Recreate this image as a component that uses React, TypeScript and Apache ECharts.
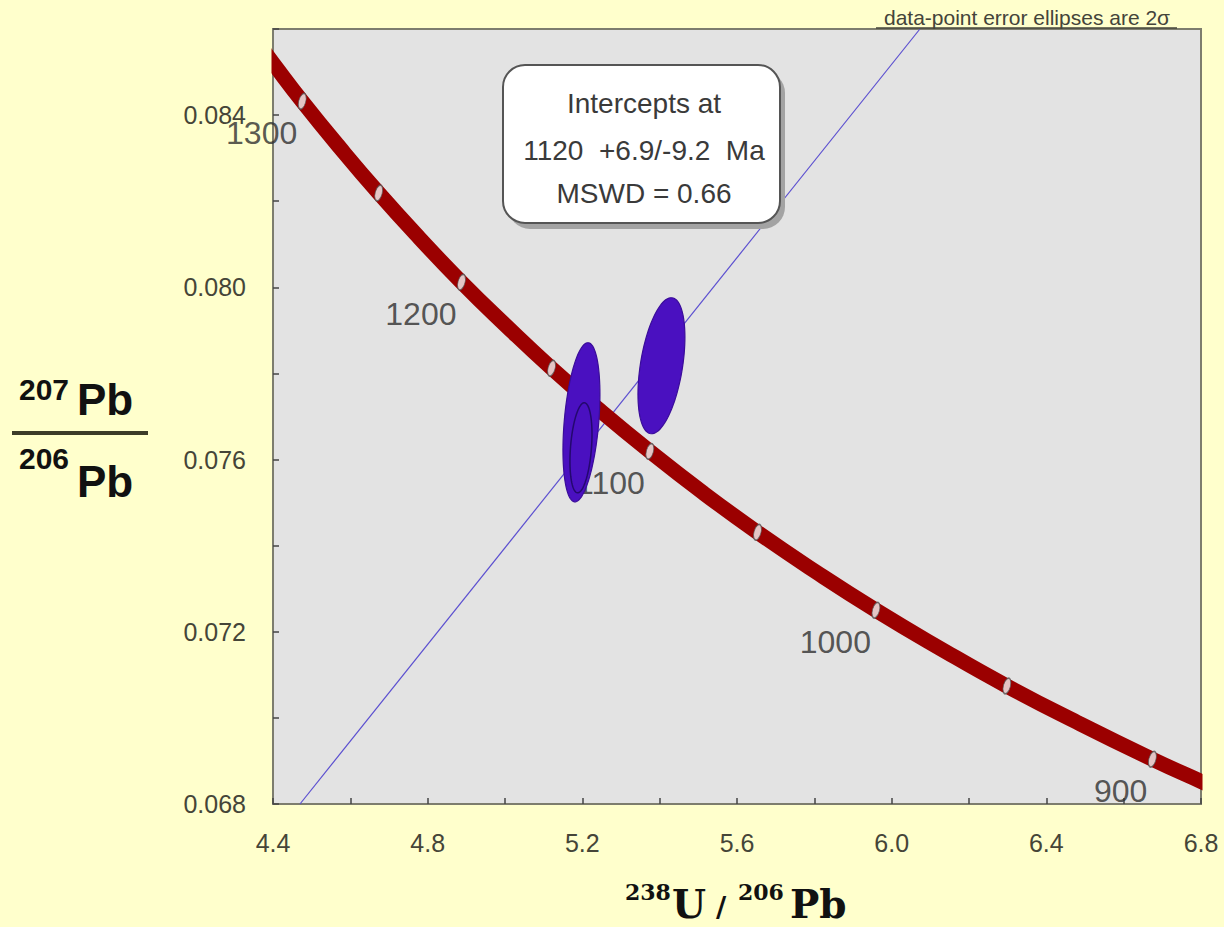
import React, { useEffect, useRef } from 'react';
import * as echarts from 'echarts';

// Concordia curve (Tera-Wasserburg), points read along the red band
const concordiaAges = [1330, 1320, 1300, 1275, 1250, 1225, 1200, 1175, 1150, 1125, 1100, 1075, 1050, 1025, 1000, 975, 950, 925, 900, 884, 875];
const concordiaX = [4.3641, 4.4007, 4.4756, 4.5725, 4.6733, 4.7782, 4.8875, 5.0015, 5.1204, 5.2447, 5.3746, 5.5106, 5.653, 5.8025, 5.9593, 6.1243, 6.298, 6.4811, 6.6743, 6.8037, 6.8787];
const concordiaY = [0.08564, 0.0852, 0.08432, 0.08325, 0.08219, 0.08115, 0.08012, 0.07912, 0.07812, 0.07715, 0.07619, 0.07524, 0.07431, 0.0734, 0.0725, 0.07162, 0.07074, 0.06989, 0.06904, 0.06851, 0.06821];

// Age tick marks on concordia
const tickAges = [1300, 1250, 1200, 1150, 1100, 1050, 1000, 950, 900];
const tickX = [4.4756, 4.6733, 4.8875, 5.1204, 5.3746, 5.653, 5.9593, 6.298, 6.6743];
const tickY = [0.08432, 0.08219, 0.08012, 0.07812, 0.07619, 0.07431, 0.0725, 0.07074, 0.06904];

// Discordia line
const discordiaX = [4.4698, 6.073];
const discordiaY = [0.068, 0.086];

// Data-point error ellipses (2 sigma): centre, half-widths, correlation
const ellipseCx = [5.1977, 5.1965, 5.4046];
const ellipseCy = [0.076866, 0.076273, 0.078179];
const ellipseSx = [0.0478, 0.0285, 0.0607];
const ellipseSy = [0.001848, 0.001046, 0.00158];
const ellipseRho = [0.35, 0.3, 0.42];

const interceptLines = ['Intercepts at', '1120  +6.9/-9.2  Ma', 'MSWD = 0.66'];
const noteText = 'data-point error ellipses are 2σ';

const SANS = '"Liberation Sans", Arial, sans-serif';
const SERIF = '"DejaVu Serif", "Liberation Serif", serif';
const PAGE_BG = '#FFFFCC';

export default function App() {
  const ref = useRef<HTMLDivElement>(null);
  useEffect(() => {
    if (!ref.current) return;
    const chart = echarts.init(ref.current, null, { renderer: 'svg' });

    const concordiaData = concordiaX.map((x, i) => [x, concordiaY[i], concordiaAges[i]]);
    const tickData = tickX.map((x, i) => [x, tickY[i], tickAges[i]]);
    const discordiaData = discordiaX.map((x, i) => [x, discordiaY[i]]);
    const ellipseData = ellipseCx.map((x, i) => [x, ellipseCy[i], ellipseSx[i], ellipseSy[i], ellipseRho[i]]);

    const option: any = {
      animation: false,
      backgroundColor: PAGE_BG,
      grid: {
        left: 273,
        top: 29,
        right: 23,
        bottom: 123,
        show: true,
        backgroundColor: '#E3E3E3',
        borderColor: '#7d7d6e',
        borderWidth: 2,
      },
      xAxis: {
        type: 'value',
        min: 4.4,
        max: 6.8,
        interval: 0.2,
        splitLine: { show: false },
        axisLine: { show: true, lineStyle: { color: '#7d7d6e', width: 2 } },
        axisTick: { show: true, inside: true, length: 6, lineStyle: { color: '#444', width: 1.5 } },
        axisLabel: {
          showMinLabel: true,
          showMaxLabel: true,
          fontSize: 25,
          fontFamily: SANS,
          color: '#454538',
          margin: 26,
          formatter: (v: number) => {
            const k = Math.round(v * 10);
            return k % 4 === 0 ? (k / 10).toFixed(1) : '';
          },
        },
      },
      yAxis: {
        type: 'value',
        min: 0.068,
        max: 0.086,
        interval: 0.002,
        splitLine: { show: false },
        axisLine: { show: true, lineStyle: { color: '#7d7d6e', width: 2 } },
        axisTick: { show: true, inside: true, length: 6, lineStyle: { color: '#444', width: 1.5 } },
        axisLabel: {
          showMinLabel: true,
          fontSize: 25,
          fontFamily: SANS,
          color: '#454538',
          margin: 27,
          formatter: (v: number) => {
            const k = Math.round(v * 1000);
            return k % 4 === 0 ? (k / 1000).toFixed(3) : '';
          },
        },
      },
      series: [
        {
          type: 'line',
          name: 'discordia',
          data: discordiaData,
          showSymbol: false,
          z: 2,
          lineStyle: { color: '#5b4fd0', width: 1.2 },
        },
        {
          type: 'line',
          name: 'concordia',
          data: concordiaData,
          showSymbol: false,
          smooth: true,
          clip: true,
          z: 3,
          lineStyle: { color: '#9b0000', width: 15, cap: 'butt' },
        },
        {
          type: 'scatter',
          name: 'ages',
          data: tickData,
          z: 4,
          symbol: 'circle',
          symbolSize: [7, 16],
          symbolRotate: -15,
          itemStyle: { color: '#f6f6f6', borderColor: '#555', borderWidth: 1.2 },
          label: {
            show: true,
            position: 'inside',
            align: 'right',
            verticalAlign: 'middle',
            offset: [-5, 32],
            fontSize: 32,
            fontFamily: SANS,
            color: '#2e2e2e',
            formatter: (p: any) => (p.value[2] % 100 === 0 ? String(p.value[2]) : ''),
          },
        },
        {
          type: 'custom',
          name: 'ellipses',
          data: ellipseData,
          z: 5,
          encode: { x: 0, y: 1 },
          renderItem: (params: any, api: any) => {
            const cx = api.value(0);
            const cy = api.value(1);
            const sx = api.value(2);
            const sy = api.value(3);
            const rho = api.value(4);
            const s = Math.sqrt(1 - rho * rho);
            const pts: number[][] = [];
            const n = 96;
            for (let k = 0; k < n; k++) {
              const t = (k / n) * Math.PI * 2;
              pts.push(api.coord([cx + sx * Math.cos(t), cy + sy * (rho * Math.cos(t) + s * Math.sin(t))]));
            }
            const inner = params.dataIndex === 1;
            return {
              type: 'polygon',
              shape: { points: pts },
              style: {
                fill: '#4a10c0',
                stroke: inner ? '#24086e' : '#3a0c9a',
                lineWidth: inner ? 1.5 : 1.2,
              },
            };
          },
        },
      ],
      graphic: [
        // trim the thick concordia band at the plot edges
        {
          type: 'rect', z: 6,
          shape: { x: 255, y: 29, width: 16.5, height: 90 },
          style: { fill: PAGE_BG },
        },
        {
          type: 'rect', z: 6,
          shape: { x: 1202.5, y: 720, width: 16, height: 90 },
          style: { fill: PAGE_BG },
        },
        // intercept box
        {
          type: 'rect',
          z: 10,
          shape: { x: 508, y: 71, width: 277, height: 158, r: 22 },
          style: { fill: '#a3a3a3' },
        },
        {
          type: 'rect',
          z: 11,
          shape: { x: 503, y: 65, width: 277, height: 158, r: 22 },
          style: { fill: '#ffffff', stroke: '#555', lineWidth: 2 },
        },
        ...interceptLines.map((t, i) => ({
          type: 'text',
          z: 12,
          x: 644,
          y: [103, 150, 193][i],
          style: {
            text: t,
            font: `28px ${SANS}`,
            fill: '#3a3a3a',
            textAlign: 'center',
            textVerticalAlign: 'middle',
          },
        })),
        // note at top right
        {
          type: 'text',
          z: 12,
          x: 1027,
          y: 17,
          style: {
            text: noteText,
            font: `21px ${SANS}`,
            fill: '#44443a',
            textAlign: 'center',
            textVerticalAlign: 'middle',
          },
        },
        {
          type: 'line',
          z: 12,
          shape: { x1: 876, y1: 28, x2: 1177, y2: 28 },
          style: { stroke: '#44443a', lineWidth: 1.5 },
        },
        // y axis title: 207Pb / 206Pb
        {
          type: 'text', z: 12, x: 19, y: 389,
          style: { text: '207', font: `bold 30px ${SANS}`, fill: '#111', textAlign: 'left', textVerticalAlign: 'middle' },
        },
        {
          type: 'text', z: 12, x: 77, y: 421,
          style: { text: 'Pb', font: `bold 44px ${SANS}`, fill: '#111', textAlign: 'left', textVerticalAlign: 'bottom' },
        },
        {
          type: 'rect', z: 12,
          shape: { x: 12, y: 431, width: 136, height: 4 },
          style: { fill: '#3c3c28' },
        },
        {
          type: 'text', z: 12, x: 19, y: 458,
          style: { text: '206', font: `bold 30px ${SANS}`, fill: '#111', textAlign: 'left', textVerticalAlign: 'middle' },
        },
        {
          type: 'text', z: 12, x: 77, y: 503,
          style: { text: 'Pb', font: `bold 44px ${SANS}`, fill: '#111', textAlign: 'left', textVerticalAlign: 'bottom' },
        },
        // x axis title: 238U/206Pb
        {
          type: 'text', z: 12, x: 625, y: 892,
          style: { text: '238', font: `bold 22px ${SERIF}`, fill: '#111', textAlign: 'left', textVerticalAlign: 'middle' },
        },
        {
          type: 'text', z: 12, x: 672, y: 904,
          style: { text: 'U', font: `bold 39px ${SERIF}`, fill: '#111', textAlign: 'left', textVerticalAlign: 'middle' },
        },
        {
          type: 'text', z: 12, x: 716, y: 907,
          style: { text: '/', font: `bold 28px ${SERIF}`, fill: '#111', textAlign: 'left', textVerticalAlign: 'middle' },
        },
        {
          type: 'text', z: 12, x: 738, y: 892,
          style: { text: '206', font: `bold 22px ${SERIF}`, fill: '#111', textAlign: 'left', textVerticalAlign: 'middle' },
        },
        {
          type: 'text', z: 12, x: 790, y: 904,
          style: { text: 'Pb', font: `bold 39px ${SERIF}`, fill: '#111', textAlign: 'left', textVerticalAlign: 'middle' },
        },
      ],
    };

    chart.setOption(option);
    return () => chart.dispose();
  }, []);

  return (
    <div
      ref={ref}
      style={{ position: 'fixed', left: 0, top: 0, width: 1224, height: 927 }}
    />
  );
}
